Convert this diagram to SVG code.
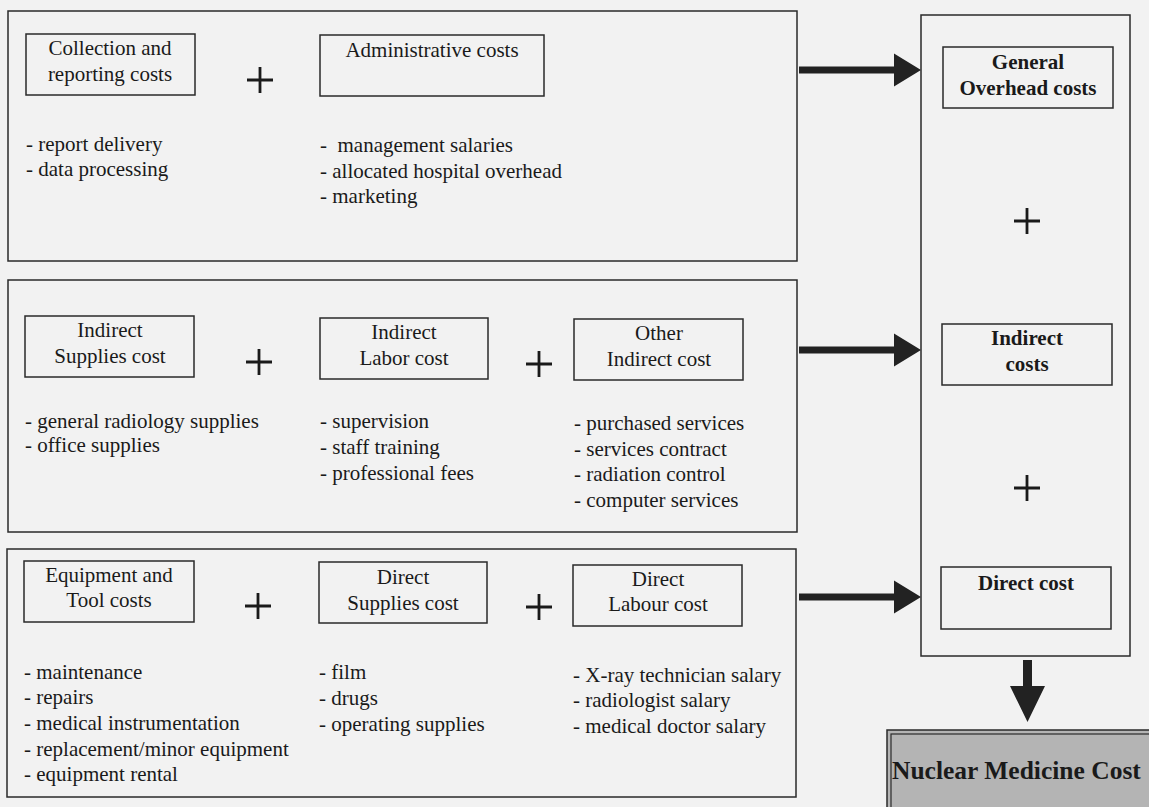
<svg xmlns="http://www.w3.org/2000/svg" width="1149" height="807" viewBox="0 0 1149 807">
<defs>
<style>
.bg{fill:#f2f2f2}
.panel{fill:#f2f2f2;stroke:#2a2a2a;stroke-width:1.5}
.box{fill:none;stroke:#2a2a2a;stroke-width:1.5}
.t{font-family:"Liberation Serif","Times New Roman",serif;font-size:21px;fill:#1a1a1a}
.c{text-anchor:middle}
.b{font-weight:bold}
.plus{stroke:#1a1a1a;stroke-width:2.8}
.shaft{fill:#222}
</style>
</defs>
<rect class="bg" x="0" y="0" width="1149" height="807"/>

<g id="panel-overhead">
<rect class="panel" x="8" y="11" width="789" height="250"/>
<g id="collection">
<rect class="box" x="26" y="34" width="169" height="61"/>
<text class="t c" x="110" y="55">Collection and</text>
<text class="t c" x="110" y="81">reporting costs</text>
</g>
<path class="plus" d="M247 80h26M260 67v26"/>
<g id="administrative">
<rect class="box" x="320" y="35" width="224" height="61"/>
<text class="t c" x="432" y="57">Administrative costs</text>
</g>
<text class="t" x="26" y="151">- report delivery</text>
<text class="t" x="26" y="176">- data processing</text>
<text class="t" x="320" y="152" xml:space="preserve">-  management salaries</text>
<text class="t" x="320" y="178">- allocated hospital overhead</text>
<text class="t" x="320" y="203">- marketing</text>
</g>

<g id="panel-indirect">
<rect class="panel" x="8" y="280" width="789" height="252"/>
<g id="indirect-supplies">
<rect class="box" x="25" y="316" width="169" height="61"/>
<text class="t c" x="110" y="337">Indirect</text>
<text class="t c" x="110" y="363">Supplies cost</text>
</g>
<path class="plus" d="M246 362h26M259 349v26"/>
<g id="indirect-labor">
<rect class="box" x="320" y="318" width="168" height="61"/>
<text class="t c" x="404" y="339">Indirect</text>
<text class="t c" x="404" y="365">Labor cost</text>
</g>
<path class="plus" d="M526 364h26M539 351v26"/>
<g id="other-indirect">
<rect class="box" x="574" y="319" width="169" height="61"/>
<text class="t c" x="659" y="340">Other</text>
<text class="t c" x="659" y="366">Indirect cost</text>
</g>
<text class="t" x="25" y="428">- general radiology supplies</text>
<text class="t" x="25" y="452">- office supplies</text>
<text class="t" x="320" y="428">- supervision</text>
<text class="t" x="320" y="454">- staff training</text>
<text class="t" x="320" y="480">- professional fees</text>
<text class="t" x="574" y="430">- purchased services</text>
<text class="t" x="574" y="456">- services contract</text>
<text class="t" x="574" y="481">- radiation control</text>
<text class="t" x="574" y="507">- computer services</text>
</g>

<g id="panel-direct">
<rect class="panel" x="7" y="549" width="789" height="248"/>
<g id="equipment">
<rect class="box" x="24" y="561" width="170" height="61"/>
<text class="t c" x="109" y="582">Equipment and</text>
<text class="t c" x="109" y="607">Tool costs</text>
</g>
<path class="plus" d="M245 606h26M258 593v26"/>
<g id="direct-supplies">
<rect class="box" x="319" y="562" width="168" height="61"/>
<text class="t c" x="403" y="584">Direct</text>
<text class="t c" x="403" y="610">Supplies cost</text>
</g>
<path class="plus" d="M526 607h26M539 594v26"/>
<g id="direct-labour">
<rect class="box" x="573" y="565" width="169" height="61"/>
<text class="t c" x="658" y="586">Direct</text>
<text class="t c" x="658" y="611">Labour cost</text>
</g>
<text class="t" x="24" y="679">- maintenance</text>
<text class="t" x="24" y="704">- repairs</text>
<text class="t" x="24" y="730">- medical instrumentation</text>
<text class="t" x="24" y="756">- replacement/minor equipment</text>
<text class="t" x="24" y="781">- equipment rental</text>
<text class="t" x="319" y="679">- film</text>
<text class="t" x="319" y="705">- drugs</text>
<text class="t" x="319" y="731">- operating supplies</text>
<text class="t" x="573" y="682">- X-ray technician salary</text>
<text class="t" x="573" y="707">- radiologist salary</text>
<text class="t" x="573" y="733">- medical doctor salary</text>
</g>

<g id="summary">
<rect class="panel" x="921" y="15" width="209" height="641"/>
<g id="general-overhead">
<rect class="box" x="943" y="47" width="170" height="61"/>
<text class="t c b" x="1028" y="69">General</text>
<text class="t c b" x="1028" y="95">Overhead costs</text>
</g>
<path class="plus" d="M1014 221h26M1027 208v26"/>
<g id="indirect-costs">
<rect class="box" x="942" y="324" width="170" height="61"/>
<text class="t c b" x="1027" y="345">Indirect</text>
<text class="t c b" x="1027" y="371">costs</text>
</g>
<path class="plus" d="M1014 488h26M1027 475v26"/>
<g id="direct-cost">
<rect class="box" x="941" y="567" width="170" height="62"/>
<text class="t c b" x="1026" y="590">Direct cost</text>
</g>
</g>

<g id="nuclear-medicine">
<rect x="887" y="730" width="266" height="82" fill="#b4b4b4" stroke="#2a2a2a" stroke-width="1.5"/>
<rect x="891" y="734" width="262" height="74" fill="none" stroke="#2a2a2a" stroke-width="1.2"/>
<text class="t b" x="892" y="779" style="font-size:25.5px">Nuclear Medicine Cost</text>
</g>

<g id="connectors">
<path class="shaft" d="M799 66.5h95v-13l27 16.5l-27 16.5v-13h-95z"/>
<path class="shaft" d="M799 346.5h95v-13l27 16.5l-27 16.5v-13h-95z"/>
<path class="shaft" d="M799 593.5h95v-13l27 16.5l-27 16.5v-13h-95z"/>
<path class="shaft" d="M1023 660h9v26h13l-17.5 36l-17.5-36h13z"/>
</g>
</svg>
